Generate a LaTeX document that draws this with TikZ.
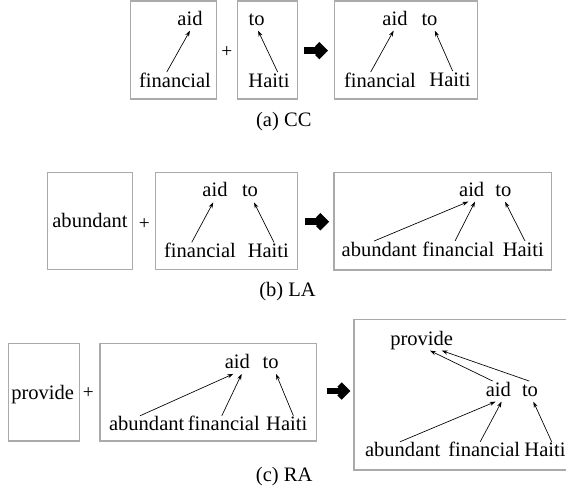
\documentclass[tikz,border=0pt]{standalone}
\usepackage{fontspec}
\setmainfont{Liberation Serif}
\usepackage{xcolor}
\usepackage{tikz}
\usetikzlibrary{arrows.meta}

\definecolor{boxgray}{RGB}{170,170,170}
\newcommand{\wordfont}{\fontsize{15.4}{18}\selectfont}
\newcommand{\plusfont}{\fontsize{14.5}{16}\selectfont}

\tikzset{
  wbox/.style={draw=boxgray, line width=0.8pt},
  word/.style={font=\wordfont, anchor=base, inner xsep=0pt, inner ysep=2pt, text height=9pt, text depth=2pt},
  plus/.style={font=\plusfont, inner sep=0pt},
  caption/.style={font=\wordfont, anchor=base, inner sep=0pt},
  dep/.style={-{Stealth[length=4.5pt,width=3pt]}, line width=0.5pt},
  bigarrow/.pic={
    \draw[line width=5pt] (-11.5,0) -- (5,0);
    \draw[line width=4.6pt, line join=miter] (1.5,-6.5) -- (8,0) -- (1.5,6.5);
  }
}

\begin{document}
\begin{tikzpicture}[x=0.75pt,y=0.75pt,yscale=-1,xscale=1]
		\useasboundingbox (0,0) rectangle (566,490); %set diagram 566 wide and 490 high
		
		%%%%% (a) CC
		%Shape: Rectangle
		\draw [wbox] (130.7,1) rectangle (216.7,99) ;
		\draw [wbox] (237.3,1) rectangle (297.3,99) ;
		\draw [wbox] (334.3,1) rectangle (477.3,99) ;
		% Text Node
		\node [word] (a1aid) at (190,25) {aid};
		\node [word] (a1fin) at (175,87) {financial};
		\node [plus] (aplus) at (226.7,52) {+};
		\node [word] (a2to) at (256.7,25) {to};
		\node [word] (a2hai) at (269,87) {Haiti};
		\pic at (315.7,50.7) {bigarrow};
		\node [word] (a3aid) at (395,25) {aid};
		\node [word] (a3to) at (429.5,25) {to};
		\node [word] (a3fin) at (380,87) {financial};
		\node [word] (a3hai) at (450,86) {Haiti};
		\node [caption] (acap) at (283.8,126.5) {(a) CC};
		%Straight Lines
		\draw [dep] ([xshift=-6.2pt]a1fin.north) -- (a1aid.south) ;
		\draw [dep] ([xshift=6.5pt]a2hai.north) -- ([xshift=1pt]a2to.south) ;
		\draw [dep] ([xshift=-7pt]a3fin.north) -- ([xshift=-1pt]a3aid.south) ;
		\draw [dep] ([xshift=2pt]a3hai.north) -- ([xshift=4pt]a3to.south) ;
		
		%%%%% (b) LA
		%Shape: Rectangle
		\draw [wbox] (47.3,172.7) rectangle (132.7,269.3) ;
		\draw [wbox] (155.7,172.7) rectangle (297.3,269.3) ;
		\draw [wbox] (334,172.3) rectangle (551.7,270) ;
		% Text Node
		\node [word] (b1abu) at (90,227.3) {abundant};
		\node [plus] (bplus) at (144.3,224) {+};
		\node [word] (b2aid) at (215,196.7) {aid};
		\node [word] (b2to) at (250,196.7) {to};
		\node [word] (b2fin) at (200,257.3) {financial};
		\node [word] (b2hai) at (268.3,257.3) {Haiti};
		\pic at (316.7,221.7) {bigarrow};
		\node [word] (b3aid) at (471.7,196) {aid};
		\node [word] (b3to) at (503.3,196) {to};
		\node [word] (b3abu) at (379.3,256) {abundant};
		\node [word] (b3fin) at (458.3,256) {financial};
		\node [word] (b3hai) at (523.3,256) {Haiti};
		\node [caption] (bcap) at (287.5,296.7) {(b) LA};
		%Straight Lines
		\draw [dep] ([xshift=-6.2pt]b2fin.north) -- ([xshift=-1.3pt]b2aid.south) ;
		\draw [dep] ([xshift=4.3pt]b2hai.north) -- ([xshift=3pt]b2to.south) ;
		\draw [dep] ([xshift=-4pt]b3abu.north) -- ([xshift=-2.5pt]b3aid.south) ;
		\draw [dep] ([xshift=-2.5pt]b3fin.north) -- ([xshift=2.5pt]b3aid.south) ;
		\draw [dep] ([xshift=1.3pt]b3hai.north) -- ([xshift=1.3pt]b3to.south) ;
		
		%%%%% (c) RA
		%Shape: Rectangle
		\draw [wbox] (8.3,343.3) rectangle (79.3,441) ;
		\draw [wbox] (100,343.3) rectangle (316.7,441) ;
		\draw [wbox] (354,319.3) rectangle (570,470) ;
		% Text Node
		\node [word] (c1pro) at (42.7,399.3) {provide};
		\node [plus] (cplus) at (88.3,393) {+};
		\node [word] (c2aid) at (237.3,368.3) {aid};
		\node [word] (c2to) at (270.7,368.3) {to};
		\node [word] (c2abu) at (146.7,430.7) {abundant};
		\node [word] (c2fin) at (223.8,430.7) {financial};
		\node [word] (c2hai) at (286.7,430.7) {Haiti};
		\pic at (338,391) {bigarrow};
		\node [word] (c3pro) at (421.7,345) {provide};
		\node [word] (c3aid) at (498.3,396) {aid};
		\node [word] (c3to) at (530,396) {to};
		\node [word] (c3abu) at (402.7,456.7) {abundant};
		\node [word] (c3fin) at (484.2,456.7) {financial};
		\node [word] (c3hai) at (545,456.7) {Haiti};
		\node [caption] (ccap) at (284.2,481.7) {(c) RA};
		%Straight Lines
		\draw [dep] ([xshift=-5pt]c2abu.north) -- ([xshift=-3pt]c2aid.south) ;
		\draw [dep] ([xshift=-1.5pt]c2fin.north) -- ([xshift=3.3pt]c2aid.south) ;
		\draw [dep] ([xshift=5pt]c2hai.north) -- ([xshift=4pt]c2to.south) ;
		\draw [dep] ([xshift=-4.2pt]c3aid.north) -- ([xshift=6.2pt]c3pro.south) ;
		\draw [dep] ([xshift=-0.5pt]c3to.north) -- ([xshift=15pt]c3pro.south) ;
		\draw [dep] ([xshift=-2pt]c3abu.north) -- ([xshift=-2pt]c3aid.south) ;
		\draw [dep] ([xshift=-3pt]c3fin.north) -- ([xshift=2.5pt]c3aid.south) ;
		\draw [dep] ([xshift=5pt]c3hai.north) -- ([xshift=2.5pt]c3to.south) ;
		
		\end{tikzpicture}
\end{document}
